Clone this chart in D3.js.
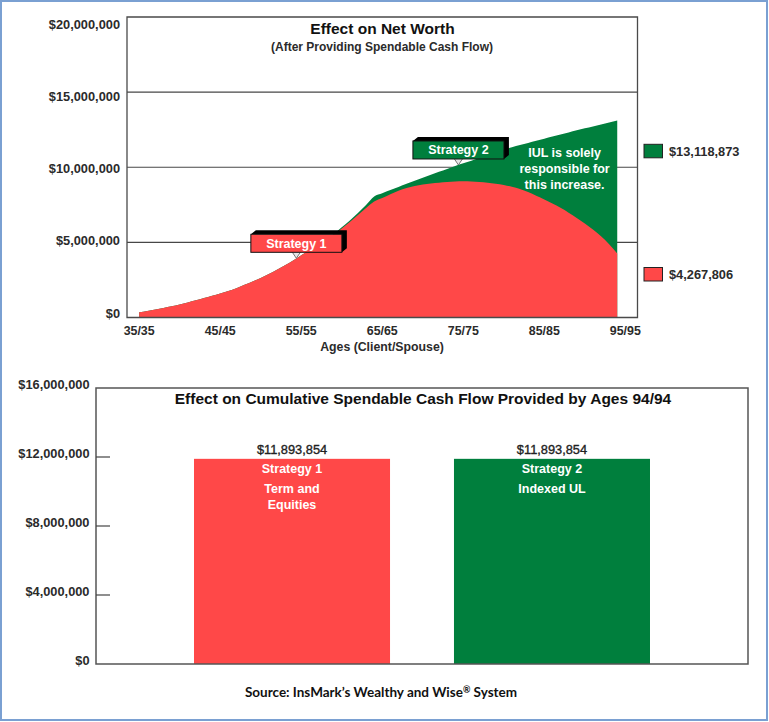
<!DOCTYPE html>
<html><head><meta charset="utf-8">
<script src="https://cdn.jsdelivr.net/npm/d3@7"></script>
<style>
body{margin:0;background:#fff}
svg{display:block}
text{font-family:"Liberation Sans",Arial,sans-serif}
</style>
</head><body>
<svg id="c" width="769" height="722"></svg>
<script>
// ---------- DATA ----------
const ages = [35,36,37,38,39,40,41,42,43,44,45,46,47,48,49,50,51,52,53,54,55,56,57,58,59,60,61,62,63,64,
              65,66,67,68,69,70,71,72,73,74,75,76,77,78,79,80,81,82,83,84,85,86,87,88,89,90,91,92,93,94];
// Net worth, $ millions
const strategy1 = [0.35,0.44,0.54,0.64,0.75,0.87,1.00,1.14,1.29,1.44,1.60,1.77,1.95,2.18,2.40,2.63,2.90,3.18,3.48,3.80,
                   4.15,4.48,4.82,5.12,5.50,5.92,6.35,6.82,7.28,7.72,7.95,8.20,8.43,8.62,8.75,8.85,8.92,8.97,9.02,9.05,
                   9.06,9.05,9.02,8.97,8.90,8.82,8.70,8.55,8.35,8.10,7.85,7.58,7.30,6.98,6.63,6.25,5.85,5.40,4.88,4.267806];
const strategy2 = [0.35,0.44,0.54,0.64,0.75,0.87,1.00,1.14,1.29,1.44,1.60,1.77,1.95,2.18,2.40,2.63,2.90,3.18,3.48,3.80,
                   4.15,4.48,4.82,5.12,5.55,6.00,6.45,6.95,7.48,8.05,8.27,8.48,8.69,8.90,9.10,9.30,9.50,9.70,9.89,10.08,
                   10.26,10.44,10.62,10.80,10.98,11.16,11.33,11.48,11.62,11.76,11.90,12.04,12.18,12.32,12.46,12.59,12.72,12.85,12.98,13.118873];
const xTickAges = [35,45,55,65,75,85,95];
const xTickLabels = ["35/35","45/45","55/55","65/65","75/75","85/85","95/95"];
const yTicksTop = [0,5,10,15,20];          // $ millions
const yTicksBottom = [0,4,8,12,16];        // $ millions
const barCategories = ["Strategy 1","Strategy 2"];
const barValues = [11893854, 11893854];
const barSubLabels = [["Term and","Equities"],["Indexed UL"]];
const colors = {s1:"#ff4848", s2:"#007f3d"};

// ---------- SETUP ----------
const svg = d3.select("#c");
const fmtMoney = d3.format("$,");
const fmtTick = v => fmtMoney(v*1e6);

svg.append("rect").attr("x",1).attr("y",1).attr("width",766).attr("height",719)
  .attr("fill","#fff").attr("stroke","#7aa0d2").attr("stroke-width",2);

// ================= TOP CHART =================
const x = d3.scaleLinear().domain([33.5, 96.5]).range([127, 637.5]);
const y = d3.scaleLinear().domain([0, 20]).range([317.5, 17]);
const yLab = d3.scaleLinear().domain([0, 20]).range([313.2, 24.2]);

const gTop = svg.append("g");
// gridlines
gTop.selectAll("line.grid").data(yTicksTop.filter(v=>v>0 && v<20)).join("line")
  .attr("x1",x.range()[0]).attr("x2",x.range()[1])
  .attr("y1",d=>y(d)).attr("y2",d=>y(d))
  .attr("stroke","#474747").attr("stroke-width",1.1);

const s1 = ages.map((a,i)=>({age:a, v:strategy1[i]}));
const s2 = ages.map((a,i)=>({age:a, v:strategy2[i]}));
const area = d3.area().x(d=>x(d.age)).y0(y(0)).y1(d=>y(d.v)).curve(d3.curveMonotoneX);
gTop.append("path").attr("d",area(s2)).attr("fill",colors.s2);
gTop.append("path").attr("d",area(s1)).attr("fill",colors.s1);

// frame
gTop.append("path")
  .attr("d",`M${x.range()[0]},${y(20)}V${y(0)}H${x.range()[1]}V${y(20)}Z`)
  .attr("fill","none").attr("stroke","#4a4a4a").attr("stroke-width",1.3);

// y labels
gTop.selectAll("text.yl").data(yTicksTop).join("text")
  .attr("x",120).attr("y",d=>yLab(d)).attr("dy","0.35em")
  .attr("text-anchor","end").attr("font-size",12.8).attr("font-weight","bold").attr("fill","#2b2b2b")
  .text(fmtTick);

// x labels
gTop.selectAll("text.xl").data(xTickAges).join("text")
  .attr("x",d=>x(d)).attr("y",334.5).attr("text-anchor","middle")
  .attr("font-size",12.4).attr("font-weight","bold").attr("fill","#2b2b2b")
  .text((d,i)=>xTickLabels[i]);

gTop.append("text").attr("x",382).attr("y",351).attr("text-anchor","middle")
  .attr("font-size",12.3).attr("font-weight","bold").attr("fill","#2b2b2b").text("Ages (Client/Spouse)");

// titles
gTop.append("text").attr("x",382.5).attr("y",34).attr("text-anchor","middle")
  .attr("font-size",15.5).attr("font-weight","bold").attr("fill","#111").text("Effect on Net Worth");
gTop.append("text").attr("x",382).attr("y",50.5).attr("text-anchor","middle")
  .attr("font-size",12).attr("font-weight","bold").attr("fill","#2b2b2b").text("(After Providing Spendable Cash Flow)");

// callouts
function callout(tipAge, series, label, fill){
  const idx = ages.indexOf(Math.floor(tipAge));
  const v = series[idx] + (series[idx+1]-series[idx])*(tipAge-Math.floor(tipAge));
  const tx = x(tipAge), ty = y(v);
  const w = 91, h = 18, dx = 5, dy = -4;
  const bx = tx - w/2, by = ty - 6 - h;
  const g = gTop.append("g");
  g.append("path").attr("d",`M${tx-4},${by+h}L${tx},${ty}L${tx+4},${by+h}`)
    .attr("fill","#e6e6e6").attr("stroke","#666").attr("stroke-width",0.9);
  g.append("path").attr("d",`M${bx},${by}L${bx+dx},${by+dy}H${bx+w+dx}V${by+h+dy}L${bx+w},${by+h}V${by}Z`)
    .attr("fill","#000");
  g.append("rect").attr("x",bx).attr("y",by).attr("width",w).attr("height",h)
    .attr("fill",fill).attr("stroke","#111").attr("stroke-width",1);
  g.append("text").attr("x",bx+w/2).attr("y",by+h/2).attr("dy","0.36em").attr("text-anchor","middle")
    .attr("font-size",12.5).attr("font-weight","bold").attr("fill","#fff").text(label);
}
callout(54.4, strategy1, "Strategy 1", colors.s1);
callout(74.4, strategy2, "Strategy 2", colors.s2);

// IUL note
const note = ["IUL is solely","responsible for","this increase."];
gTop.selectAll("text.note").data(note).join("text")
  .attr("x",x(87.5)).attr("y",(d,i)=>157+i*16).attr("text-anchor","middle")
  .attr("font-size",12.5).attr("font-weight","bold").attr("fill","#fff").text(d=>d);

// legend (end values)
const legend = [
  {v:strategy2[strategy2.length-1], c:colors.s2, y:144.3},
  {v:strategy1[strategy1.length-1], c:colors.s1, y:267.5}
];
const lg = gTop.selectAll("g.lg").data(legend).join("g");
lg.append("rect").attr("x",644).attr("y",d=>d.y).attr("width",18.5).attr("height",13.5)
  .attr("fill",d=>d.c).attr("stroke","#222").attr("stroke-width",1);
lg.append("text").attr("x",669).attr("y",d=>d.y+6.75).attr("dy","0.36em")
  .attr("font-size",12.8).attr("font-weight","bold").attr("fill","#2b2b2b")
  .text(d=>fmtMoney(Math.round(d.v*1e6)));

// ================= BOTTOM CHART =================
const xb = d3.scaleBand().domain(barCategories).range([96, 748]).paddingInner(0.246).paddingOuter(0.377);
const yb = d3.scaleLinear().domain([0, 16]).range([664, 388]);
const gBot = svg.append("g");

gBot.selectAll("rect.bar").data(barCategories).join("rect")
  .attr("x",d=>xb(d)).attr("width",xb.bandwidth())
  .attr("y",(d,i)=>yb(barValues[i]/1e6)).attr("height",(d,i)=>yb(0)-yb(barValues[i]/1e6))
  .attr("fill",(d,i)=>i===0?colors.s1:colors.s2);

// frame
gBot.append("rect").attr("x",96).attr("y",yb(16)).attr("width",748-96).attr("height",yb(0)-yb(16))
  .attr("fill","none").attr("stroke","#555").attr("stroke-width",1.5);
// inner ticks
gBot.selectAll("line.tk").data(yTicksBottom.filter(v=>v>0 && v<16)).join("line")
  .attr("x1",96).attr("x2",110).attr("y1",d=>yb(d)).attr("y2",d=>yb(d))
  .attr("stroke","#444").attr("stroke-width",1.2);
// y labels
gBot.selectAll("text.yl").data(yTicksBottom).join("text")
  .attr("x",89.5).attr("y",d=>yb(d)-3.7).attr("dy","0.35em").attr("text-anchor","end")
  .attr("font-size",12.8).attr("font-weight","bold").attr("fill","#2b2b2b").text(fmtTick);

// title
gBot.append("text").attr("x",423).attr("y",404.3).attr("text-anchor","middle")
  .attr("font-size",15.5).attr("font-weight","bold").attr("fill","#111")
  .text("Effect on Cumulative Spendable Cash Flow Provided by Ages 94/94");

// value labels
gBot.selectAll("text.val").data(barCategories).join("text")
  .attr("x",d=>xb(d)+xb.bandwidth()/2).attr("y",(d,i)=>yb(barValues[i]/1e6)-4.5)
  .attr("text-anchor","middle").attr("font-size",12.8).attr("fill","#222")
  .attr("stroke","#222").attr("stroke-width",0.35)
  .text((d,i)=>fmtMoney(barValues[i]));
// in-bar labels
gBot.selectAll("text.cat").data(barCategories).join("text")
  .attr("x",d=>xb(d)+xb.bandwidth()/2).attr("y",(d,i)=>yb(barValues[i]/1e6)+14)
  .attr("text-anchor","middle").attr("font-size",12.5).attr("font-weight","bold").attr("fill","#fff")
  .text(d=>d);
barCategories.forEach((c,i)=>{
  gBot.selectAll(null).data(barSubLabels[i]).join("text")
    .attr("x",xb(c)+xb.bandwidth()/2).attr("y",(d,j)=>yb(barValues[i]/1e6)+34+j*16)
    .attr("text-anchor","middle").attr("font-size",12.5).attr("font-weight","bold").attr("fill","#fff")
    .text(d=>d);
});

// source
const src = svg.append("text").attr("x",381).attr("y",696.5).attr("text-anchor","middle")
  .style("font-family","Lato,'Open Sans',sans-serif").attr("font-size",13.5).attr("font-weight","bold")
  .attr("fill","#111");
src.append("tspan").text("Source: InsMark\u2019s Wealthy and Wise");
src.append("tspan").attr("font-size",9).attr("dy",-4).text("\u00AE");
src.append("tspan").attr("dy",4).text(" System");
</script>
</body></html>
